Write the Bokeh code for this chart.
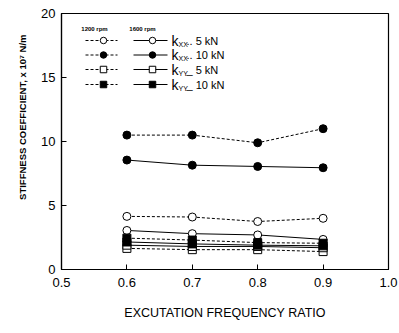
import math
from bokeh.plotting import figure
from bokeh.models import Range1d, Label, FixedTicker, Title
from bokeh.embed import file_html
from bokeh.resources import INLINE

# ---- data ----
ratio = [0.6, 0.7, 0.8, 0.9]
kxx_5kN_1200 = [4.15, 4.1, 3.75, 4.0]
kxx_5kN_1600 = [3.05, 2.8, 2.7, 2.35]
kxx_10kN_1200 = [10.5, 10.5, 9.9, 11.0]
kxx_10kN_1600 = [8.55, 8.15, 8.05, 7.95]
kyy_5kN_1200 = [1.65, 1.55, 1.55, 1.4]
kyy_5kN_1600 = [1.9, 1.8, 1.8, 1.7]
kyy_10kN_1200 = [2.45, 2.3, 2.1, 2.05]
kyy_10kN_1600 = [2.15, 2.0, 1.9, 1.85]

x_ticks = [0.5, 0.6, 0.7, 0.8, 0.9, 1.0]
y_ticks = [0, 5, 10, 15, 20]

FONT = "Liberation Sans"
W, H = 399, 333
L, R, T, B = 61, 11, 13, 64
XMIN, XMAX, YMIN, YMAX = 0.5, 1.0, 0.0, 20.0

p = figure(width=W, height=H, output_backend="svg", toolbar_location=None,
           x_range=Range1d(XMIN, XMAX), y_range=Range1d(YMIN, YMAX),
           min_border_left=L, min_border_right=R, min_border_top=T, min_border_bottom=B)
p.grid.visible = False
p.outline_line_color = "black"
p.outline_line_width = 1.2
p.background_fill_color = "white"
p.border_fill_color = "white"

for ax in (p.xaxis[0], p.yaxis[0]):
    ax.major_tick_in = 5
    ax.major_tick_out = 0
    ax.minor_tick_line_color = None
    ax.axis_line_color = "black"
    ax.axis_line_width = 1.2
    ax.major_label_text_font = FONT
    ax.major_label_text_font_size = "13px"
    ax.major_label_text_color = "black"

p.xaxis.ticker = FixedTicker(ticks=x_ticks)
p.yaxis.ticker = FixedTicker(ticks=y_ticks)
p.xaxis.major_label_overrides = {t: f"{t:.1f}" for t in x_ticks}
p.xaxis.major_label_standoff = 8
p.yaxis.major_label_standoff = 6

p.xaxis.axis_label = "EXCUTATION FREQUENCY RATIO"
p.xaxis.axis_label_text_font = FONT
p.xaxis.axis_label_text_font_size = "12.5px"
p.xaxis.axis_label_text_font_style = "normal"
p.xaxis.axis_label_text_color = "black"
p.xaxis.axis_label_standoff = 16

# y-axis label as a left-side title, placed near the top like the reference
p.add_layout(Title(text="STIFFNESS COEFFICIENT, x 10\u2077 N/m", align="right",
                   offset=21, text_font=FONT, text_font_size="9.5px",
                   text_font_style="bold", text_color="black", standoff=22), "left")

def px_x(px):
    return XMIN + (px - L) / (W - L - R) * (XMAX - XMIN)

def px_y(py):
    return YMAX - (py - T) / (H - T - B) * (YMAX - YMIN)

DASH = "3 2"
series = [
    (kxx_5kN_1200, "circle", "white", DASH),
    (kxx_5kN_1600, "circle", "white", "solid"),
    (kxx_10kN_1200, "circle", "black", DASH),
    (kxx_10kN_1600, "circle", "black", "solid"),
    (kyy_5kN_1200, "square", "white", DASH),
    (kyy_5kN_1600, "square", "white", "solid"),
    (kyy_10kN_1200, "square", "black", DASH),
    (kyy_10kN_1600, "square", "black", "solid"),
]
for vals, marker, fill, dash in series:
    p.line(ratio, vals, line_color="black", line_width=1, line_dash=dash)
for vals, marker, fill, dash in series:
    p.scatter(ratio, vals, marker=marker, size=8,
              fill_color=fill, line_color="black", line_width=1)

# ---- manual legend ----
rows_px = [40, 54.5, 69, 84]
head_px = 28
col1 = (85, 117, 103)
col2 = (133, 167, 152)
leg = [
    ("XX", " .. 5 kN", "circle", "white"),
    ("XX", " .. 10 kN", "circle", "black"),
    ("YY", " _ 5 kN", "square", "white"),
    ("YY", " _ 10 kN", "square", "black"),
]
for txt, cx in (("1200 rpm", 94), ("1600 rpm", 142)):
    p.add_layout(Label(x=px_x(cx), y=px_y(head_px), text=txt, text_align="center",
                       text_baseline="middle", text_font=FONT, text_font_size="6px",
                       text_font_style="bold", text_color="black"))
for (sub, rest, marker, fill), ry in zip(leg, rows_px):
    yv = px_y(ry)
    for (xa, xb, xm), dash in ((col1, DASH), (col2, "solid")):
        p.line([px_x(xa), px_x(xb)], [yv, yv], line_color="black", line_width=1, line_dash=dash)
        p.scatter([px_x(xm)], [yv], marker=marker, size=6.5, fill_color=fill,
                  line_color="black", line_width=1)
    p.add_layout(Label(x=px_x(171), y=yv, text="k", text_baseline="middle",
                       text_font=FONT, text_font_size="14px", text_color="black"))
    p.add_layout(Label(x=px_x(178), y=px_y(ry + 3.5), text=sub, text_baseline="middle",
                       text_font=FONT, text_font_size="7px", text_color="black"))
    p.add_layout(Label(x=px_x(186), y=yv, text=rest, text_baseline="middle",
                       text_font=FONT, text_font_size="11px", text_color="black"))

open("out.html", "w").write(file_html(p, INLINE))
